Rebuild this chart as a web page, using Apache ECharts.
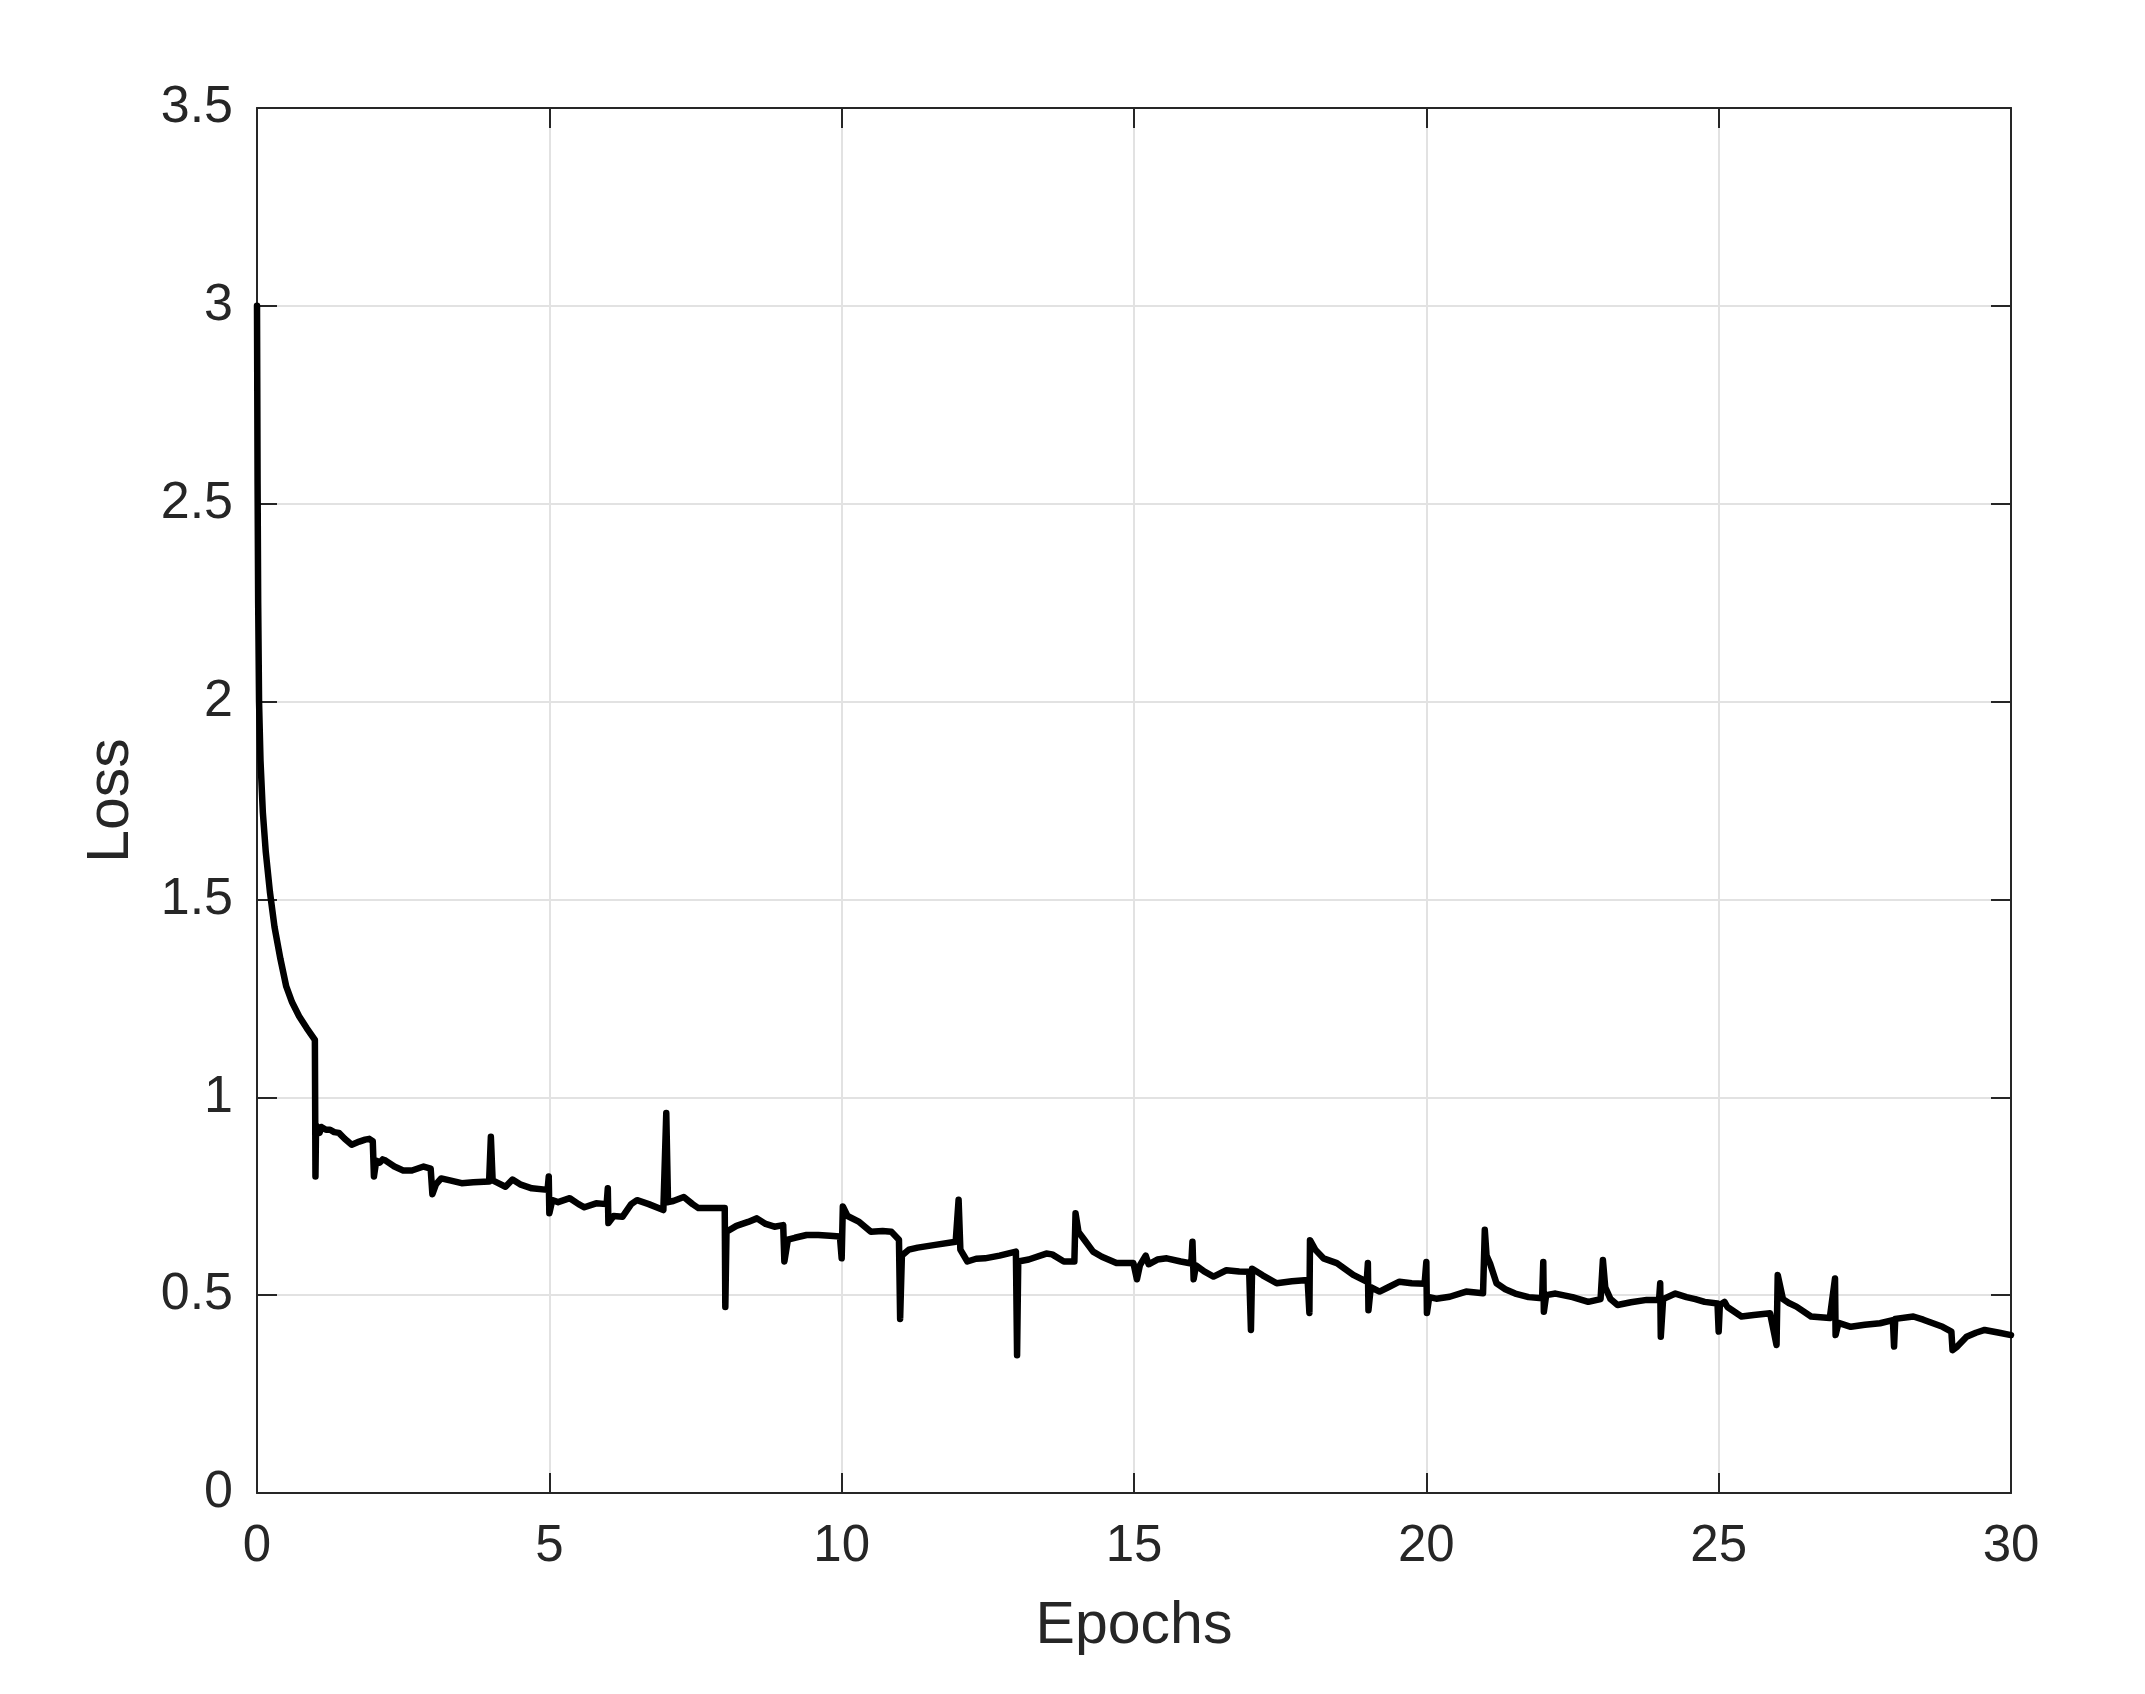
<!DOCTYPE html>
<html>
<head>
<meta charset="utf-8">
<script src="https://cdn.jsdelivr.net/npm/echarts@6/dist/echarts.min.js"></script>
<style>
html,body{margin:0;padding:0;background:#fff;}
#chart{width:2145px;height:1694px;}
</style>
</head>
<body>
<div id="chart"></div>
<script>
const xTicks = [0, 5, 10, 15, 20, 25, 30];
const yTicks = [0, 0.5, 1, 1.5, 2, 2.5, 3, 3.5];
const xLabel = 'Epochs';
const yLabel = 'Loss';

const epochs = [
  0, 0.01, 0.02, 0.035, 0.06, 0.1, 0.15, 0.22, 0.3, 0.4, 0.5, 0.6, 0.72, 0.85, 0.99,
  1.0, 1.01, 1.04, 1.07, 1.1, 1.18, 1.25, 1.32, 1.4, 1.5, 1.62, 1.75, 1.85, 1.92, 1.98,
  2.0, 2.04, 2.1, 2.15, 2.2, 2.35, 2.5, 2.65, 2.75, 2.85, 2.97,
  3.0, 3.06, 3.15, 3.3, 3.5, 3.7, 3.97,
  4.0, 4.03, 4.1, 4.25, 4.37, 4.5, 4.7, 4.97,
  4.99, 5.0, 5.05, 5.15, 5.35, 5.5, 5.6, 5.8, 5.98,
  6.0, 6.01, 6.1, 6.25, 6.4, 6.5, 6.7, 6.95,
  7.0, 7.03, 7.12, 7.3, 7.45, 7.55, 7.8, 8.0,
  8.01, 8.03, 8.2, 8.4, 8.55, 8.7, 8.85, 9.0,
  9.02, 9.08, 9.2, 9.4, 9.6, 9.8, 9.97,
  10.0, 10.02, 10.1, 10.3, 10.5, 10.7, 10.85, 10.98,
  11.0, 11.03, 11.15, 11.3, 11.6, 11.95,
  12.0, 12.03, 12.15, 12.3, 12.45, 12.7, 12.98,
  13.0, 13.02, 13.2, 13.5, 13.6, 13.8, 13.98,
  14.0, 14.05, 14.15, 14.3, 14.45, 14.7, 14.99,
  15.05, 15.1, 15.2, 15.25, 15.4, 15.56, 15.8, 15.98,
  16.0, 16.02, 16.06, 16.2, 16.36, 16.58, 16.8, 16.97,
  17.0, 17.02, 17.2, 17.44, 17.7, 17.97,
  18.0, 18.01, 18.1, 18.24, 18.47, 18.75, 18.98,
  19.0, 19.01, 19.05, 19.2, 19.35, 19.54, 19.75, 19.97,
  20.0, 20.01, 20.05, 20.17, 20.4, 20.68, 20.97,
  21.0, 21.03, 21.09, 21.2, 21.35, 21.52, 21.75, 21.98,
  22.0, 22.01, 22.05, 22.21, 22.5, 22.77, 22.98,
  23.02, 23.06, 23.15, 23.27, 23.5, 23.77, 23.98,
  24.0, 24.01, 24.05, 24.26, 24.45, 24.6, 24.76, 24.98,
  25.0, 25.02, 25.1, 25.15, 25.39, 25.6, 25.88,
  25.99, 26.01, 26.1, 26.2, 26.33, 26.58, 26.9,
  26.99, 27.0, 27.05, 27.26, 27.5, 27.76, 27.98,
  28.0, 28.02, 28.33, 28.5, 28.83, 28.98,
  29.0, 29.08, 29.24, 29.4, 29.55, 29.8, 30.0
];
const loss = [
  3.0, 2.55, 2.25, 2.0, 1.85, 1.72, 1.62, 1.52, 1.43, 1.35, 1.28, 1.24, 1.205, 1.175, 1.145,
  0.80, 0.93, 0.935, 0.91, 0.925, 0.918, 0.918, 0.912, 0.91, 0.895, 0.88, 0.888, 0.893, 0.895, 0.889,
  0.80, 0.84, 0.835, 0.843, 0.84, 0.825, 0.815, 0.815, 0.82, 0.825, 0.82,
  0.755, 0.78, 0.795, 0.79, 0.783, 0.785, 0.787,
  0.90, 0.79, 0.785, 0.774, 0.792, 0.78, 0.77, 0.766,
  0.80, 0.707, 0.74, 0.735, 0.745, 0.73, 0.722, 0.732, 0.73,
  0.77, 0.682, 0.70, 0.698, 0.73, 0.74, 0.73, 0.715,
  0.96, 0.735, 0.738, 0.748, 0.73, 0.72, 0.72, 0.72,
  0.47, 0.66, 0.675, 0.685, 0.694, 0.68, 0.673, 0.677,
  0.585, 0.64, 0.645, 0.652, 0.652, 0.65, 0.648,
  0.593, 0.724, 0.70, 0.685, 0.66, 0.662, 0.66, 0.64,
  0.44, 0.60, 0.615, 0.62, 0.627, 0.635,
  0.741, 0.615, 0.585, 0.592, 0.593, 0.60, 0.61,
  0.348, 0.585, 0.59, 0.605, 0.603, 0.585, 0.585,
  0.707, 0.66, 0.64, 0.61, 0.597, 0.581, 0.581,
  0.54, 0.575, 0.60, 0.578, 0.59, 0.593, 0.585, 0.58,
  0.635, 0.54, 0.575, 0.56, 0.547, 0.563, 0.56, 0.559,
  0.412, 0.567, 0.55, 0.53, 0.535, 0.538,
  0.455, 0.639, 0.615, 0.593, 0.581, 0.551, 0.534,
  0.581, 0.462, 0.52, 0.509, 0.52, 0.534, 0.53, 0.529,
  0.584, 0.455, 0.495, 0.491, 0.496, 0.509, 0.505,
  0.665, 0.60, 0.58, 0.53, 0.515, 0.504, 0.495, 0.492,
  0.584, 0.458, 0.50, 0.504, 0.495, 0.483, 0.49,
  0.589, 0.52, 0.49, 0.475, 0.482, 0.488, 0.488,
  0.53, 0.395, 0.49, 0.504, 0.495, 0.49, 0.483, 0.479,
  0.408, 0.475, 0.483, 0.47, 0.446, 0.45, 0.454,
  0.374, 0.551, 0.49, 0.48, 0.471, 0.446, 0.442,
  0.542, 0.399, 0.43, 0.42, 0.425, 0.429, 0.437,
  0.37, 0.44, 0.446, 0.438, 0.42, 0.408,
  0.361, 0.37, 0.395, 0.405, 0.412, 0.405, 0.399
];

const txt = '#262626';
const font = '"Liberation Sans", Arial, Helvetica, sans-serif';
const points = epochs.map((e, i) => [e, loss[i]]);

function xAx(pos, showLabels) {
  return {
    type: 'value', position: pos, min: xTicks[0], max: xTicks[xTicks.length - 1], interval: 5,
    name: showLabels ? xLabel : '', nameLocation: 'middle', nameGap: 104,
    nameTextStyle: { fontSize: 59, color: txt, fontFamily: font },
    axisLine: { show: true, onZero: false, lineStyle: { color: txt, width: 2 } },
    axisTick: { show: true, inside: true, length: 20, lineStyle: { color: txt, width: 2 } },
    axisLabel: { show: showLabels, margin: 28, fontSize: 51, color: txt, fontFamily: font },
    splitLine: { show: showLabels, lineStyle: { color: '#e2e2e2', width: 2 } }
  };
}
function yAx(pos, showLabels) {
  return {
    type: 'value', position: pos, min: yTicks[0], max: yTicks[yTicks.length - 1], interval: 0.5,
    name: showLabels ? yLabel : '', nameLocation: 'middle', nameGap: 116,
    nameTextStyle: { fontSize: 59, color: txt, fontFamily: font },
    axisLine: { show: true, onZero: false, lineStyle: { color: txt, width: 2 } },
    axisTick: { show: true, inside: true, length: 20, lineStyle: { color: txt, width: 2 } },
    axisLabel: { show: showLabels, margin: 24, fontSize: 52, color: txt, fontFamily: font },
    splitLine: { show: showLabels, lineStyle: { color: '#e2e2e2', width: 2 } }
  };
}

const chart = echarts.init(document.getElementById('chart'), null, { renderer: 'canvas' });
chart.setOption({
  animation: false,
  backgroundColor: '#ffffff',
  grid: { left: 257, right: 134, top: 108, bottom: 201 },
  xAxis: [xAx('bottom', true), xAx('top', false)],
  yAxis: [yAx('left', true), yAx('right', false)],
  series: [{
    type: 'line',
    xAxisIndex: 0, yAxisIndex: 0,
    data: points,
    showSymbol: false,
    symbol: 'none',
    lineStyle: { color: '#000000', width: 6.5, cap: 'round', join: 'round' },
    z: 5
  }]
});
</script>
</body>
</html>
